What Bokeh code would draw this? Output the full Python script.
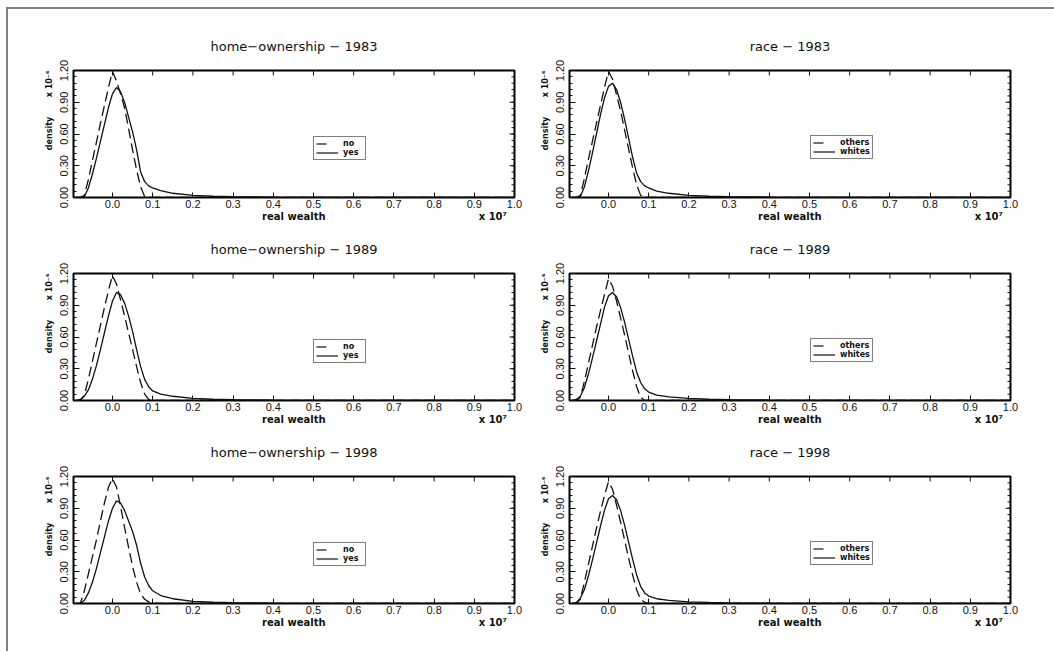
from math import pi
from bokeh.plotting import figure
from bokeh.layouts import gridplot
from bokeh.models import (Range1d, FixedTicker, PrintfTickFormatter,
                          Legend, LegendItem)
from bokeh.embed import file_html
from bokeh.resources import INLINE

# ---------------- data (wealth in units of 1e7, density in units of 1e-6) ----
wealth_grid = [-0.09, -0.08, -0.07, -0.06, -0.05, -0.04, -0.03, -0.02, -0.01, 0.00,
               0.01, 0.02, 0.03, 0.04, 0.05, 0.06, 0.07, 0.08, 0.09, 0.10,
               0.12, 0.15, 0.20, 0.25, 0.30, 0.40, 0.50, 0.70, 1.00]

home_1983_no = [0, 0, 0.02, 0.17, 0.35, 0.52, 0.70, 0.87, 1.04, 1.19,
                1.10, 0.98, 0.85, 0.65, 0.45, 0.26, 0.10, 0.01, 0, 0,
                0, 0, 0, 0, 0, 0, 0, 0, 0]
home_1983_yes = [0, 0, 0.01, 0.09, 0.22, 0.37, 0.53, 0.69, 0.85, 0.98,
                 1.04, 1.00, 0.90, 0.76, 0.62, 0.45, 0.24, 0.15, 0.11, 0.09,
                 0.065, 0.04, 0.02, 0.012, 0.008, 0.004, 0.002, 0.001, 0]

race_1983_others = [0, 0, 0.02, 0.18, 0.36, 0.53, 0.70, 0.87, 1.04, 1.19,
                    1.12, 0.97, 0.82, 0.64, 0.46, 0.28, 0.12, 0.02, 0, 0,
                    0, 0, 0, 0, 0, 0, 0, 0, 0]
race_1983_whites = [0, 0, 0.01, 0.10, 0.25, 0.42, 0.60, 0.78, 0.94, 1.05,
                    1.08, 1.02, 0.90, 0.74, 0.56, 0.38, 0.23, 0.15, 0.11, 0.09,
                    0.06, 0.04, 0.02, 0.012, 0.008, 0.004, 0.002, 0.001, 0]

home_1989_no = [0, 0, 0.05, 0.20, 0.37, 0.54, 0.71, 0.88, 1.04, 1.18,
                1.10, 0.95, 0.80, 0.64, 0.48, 0.32, 0.17, 0.06, 0.01, 0,
                0, 0, 0, 0, 0, 0, 0, 0, 0]
home_1989_yes = [0, 0.01, 0.04, 0.10, 0.20, 0.33, 0.48, 0.64, 0.80, 0.94,
                 1.02, 1.00, 0.92, 0.80, 0.65, 0.48, 0.32, 0.20, 0.13, 0.09,
                 0.06, 0.04, 0.02, 0.012, 0.008, 0.004, 0.002, 0.001, 0]

race_1989_others = [0, 0, 0.03, 0.18, 0.35, 0.52, 0.69, 0.85, 1.00, 1.15,
                    1.08, 0.94, 0.78, 0.62, 0.45, 0.28, 0.13, 0.03, 0, 0,
                    0, 0, 0, 0, 0, 0, 0, 0, 0]
race_1989_whites = [0, 0.01, 0.04, 0.12, 0.25, 0.40, 0.56, 0.72, 0.88, 0.99,
                    1.02, 0.98, 0.88, 0.74, 0.58, 0.42, 0.27, 0.17, 0.11, 0.08,
                    0.05, 0.035, 0.02, 0.012, 0.008, 0.004, 0.002, 0.001, 0]

home_1998_no = [0, 0, 0.12, 0.28, 0.44, 0.60, 0.78, 0.95, 1.10, 1.18,
                1.10, 0.92, 0.72, 0.53, 0.35, 0.20, 0.09, 0.04, 0.015, 0.005,
                0, 0, 0, 0, 0, 0, 0, 0, 0]
home_1998_yes = [0, 0, 0.03, 0.10, 0.20, 0.33, 0.48, 0.63, 0.78, 0.90,
                 0.97, 0.95, 0.88, 0.78, 0.68, 0.55, 0.38, 0.25, 0.17, 0.12,
                 0.075, 0.045, 0.02, 0.012, 0.008, 0.004, 0.002, 0.001, 0]

race_1998_others = [0, 0, 0.04, 0.20, 0.37, 0.54, 0.71, 0.87, 1.02, 1.15,
                    1.08, 0.93, 0.77, 0.60, 0.43, 0.27, 0.13, 0.04, 0.01, 0,
                    0, 0, 0, 0, 0, 0, 0, 0, 0]
race_1998_whites = [0, 0.01, 0.05, 0.13, 0.26, 0.41, 0.57, 0.73, 0.88, 0.99,
                    1.02, 0.98, 0.88, 0.74, 0.58, 0.42, 0.27, 0.16, 0.10, 0.07,
                    0.045, 0.03, 0.015, 0.01, 0.006, 0.003, 0.002, 0.001, 0]

x_ticks = [0.0, 0.1, 0.2, 0.3, 0.4, 0.5, 0.6, 0.7, 0.8, 0.9, 1.0]
y_ticks = [0.0, 0.3, 0.6, 0.9, 1.2]
y_minor_ticks = [0.06 * i for i in range(21)]

panels = [
    ("home\u2212ownership \u2212 1983", "no", "yes", home_1983_no, home_1983_yes),
    ("race \u2212 1983", "others", "whites", race_1983_others, race_1983_whites),
    ("home\u2212ownership \u2212 1989", "no", "yes", home_1989_no, home_1989_yes),
    ("race \u2212 1989", "others", "whites", race_1989_others, race_1989_whites),
    ("home\u2212ownership \u2212 1998", "no", "yes", home_1998_no, home_1998_yes),
    ("race \u2212 1998", "others", "whites", race_1998_others, race_1998_whites),
]

FW, FH = 441, 127
TICK_FONT = "Liberation Sans"
INK = "#111111"
NB = "\u00a0"
X_LABEL = NB * 52 + "real wealth" + NB * 44 + "x 10\u2077"
Y_LABEL = NB * 17 + "density" + NB * 7 + "x 10\u207b\u2076"


def make_panel(idx, title, lab_a, lab_b, ya, yb):
    col = idx % 2
    row = idx // 2
    L, R = (73, 15) if col == 0 else (40, 44)
    T = 70 if row == 0 else 49
    B = 27 if row < 2 else 48
    p = figure(width=L + FW + R, height=T + FH + B, title=title,
               x_range=Range1d(-0.097, 1.0), y_range=Range1d(0, 1.2),
               output_backend="svg", toolbar_location=None,
               min_border_left=L, min_border_right=R,
               min_border_top=T, min_border_bottom=B)
    p.xgrid.visible = False
    p.ygrid.visible = False
    p.outline_line_color = "black"
    p.outline_line_width = 2
    p.background_fill_color = "white"
    p.border_fill_color = None

    p.title.align = "center"
    p.title.vertical_align = "middle"
    p.title.text_font = "DejaVu Sans"
    p.title.text_font_size = "13px"
    p.title.text_font_style = "normal"
    p.title.text_color = INK
    p.title.standoff = 31

    xa = p.xaxis[0]
    xa.ticker = FixedTicker(ticks=x_ticks, minor_ticks=[])
    xa.formatter = PrintfTickFormatter(format="%.1f")
    xa.axis_line_color = None
    xa.major_tick_line_color = INK
    xa.major_tick_out = 0
    xa.major_tick_in = 5
    xa.minor_tick_in = 0
    xa.minor_tick_out = 0
    xa.major_label_standoff = 2
    xa.major_label_text_font = TICK_FONT
    xa.major_label_text_font_size = "11px"
    xa.major_label_text_color = INK
    xa.axis_label = X_LABEL
    xa.axis_label_text_font = "DejaVu Sans"
    xa.axis_label_text_font_size = "10px"
    xa.axis_label_text_font_style = "bold"
    xa.axis_label_standoff = 0
    xa.axis_label_text_color = INK

    yax = p.yaxis[0]
    yax.ticker = FixedTicker(ticks=y_ticks, minor_ticks=y_minor_ticks)
    yax.formatter = PrintfTickFormatter(format="%.2f")
    yax.axis_line_color = None
    yax.major_tick_line_color = INK
    yax.minor_tick_line_color = INK
    yax.major_tick_out = 0
    yax.minor_tick_out = 0
    yax.major_tick_in = 6
    yax.minor_tick_in = 3
    yax.major_label_orientation = "vertical"
    yax.major_label_standoff = 6
    yax.major_label_text_font = TICK_FONT
    yax.major_label_text_font_size = "11px"
    yax.major_label_text_color = INK
    yax.axis_label = Y_LABEL
    yax.axis_label_text_font = "DejaVu Sans"
    yax.axis_label_text_font_size = "8px"
    yax.axis_label_text_font_style = "bold"
    yax.axis_label_standoff = 3
    yax.axis_label_text_color = INK

    # mirrored inward ticks on the top and right edges of the frame
    p.scatter(x_ticks, [y_ticks[-1]] * len(x_ticks), marker="dash", angle=pi / 2,
              size=10, line_color=INK, line_width=1)
    p.scatter([x_ticks[-1]] * len(y_minor_ticks), y_minor_ticks, marker="dash",
              size=6, line_color=INK, line_width=1)
    p.scatter([x_ticks[-1]] * len(y_ticks), y_ticks, marker="dash",
              size=10, line_color=INK, line_width=1)

    p.line(wealth_grid, ya, line_color=INK, line_width=1.3, line_dash="10 5")
    p.line(wealth_grid, yb, line_color=INK, line_width=1.3)

    # legend sample renderers (kept outside the visible ranges)
    da = p.line([5, 6], [5, 6], line_color=INK, line_width=1.2, line_dash="10 30")
    db = p.line([5, 6], [5, 6], line_color=INK, line_width=1.2)
    legend = Legend(items=[LegendItem(label=lab_a, renderers=[da]),
                           LegendItem(label=lab_b, renderers=[db])],
                    location=(240, 37) if col == 0 else (241, 38),
                    border_line_color="black", border_line_width=1,
                    background_fill_color="white", background_fill_alpha=1,
                    label_text_font="DejaVu Sans", label_text_font_size="8px",
                    label_text_font_style="bold", label_text_color=INK,
                    glyph_width=22, glyph_height=9, label_height=9,
                    label_standoff=5, padding=2, spacing=0, margin=0)
    p.add_layout(legend)
    return p


figs = [make_panel(i, *pp) for i, pp in enumerate(panels)]
grid = gridplot([[figs[0], figs[1]], [figs[2], figs[3]], [figs[4], figs[5]]],
                toolbar_location=None)
grid.styles = {
    "background": ("linear-gradient(#808080, #808080) 6px 7px / 2px 700px no-repeat, "
                   "linear-gradient(#808080, #808080) 6px 7px / 1100px 2px no-repeat"),
}

open("out.html", "w").write(file_html(grid, INLINE))
